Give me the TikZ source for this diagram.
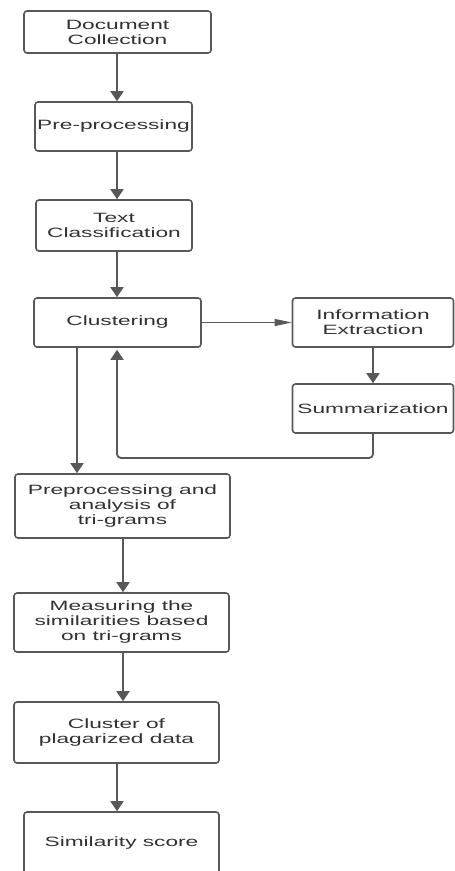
\documentclass[tikz,border=0pt]{standalone}
\usepackage{fontspec}
\newfontfamily\boxfont[FakeStretch=1.68]{Liberation Sans}
\usetikzlibrary{arrows.meta}
\definecolor{linegray}{RGB}{88,88,88}
\definecolor{textgray}{RGB}{50,50,50}
\tikzset{
  box/.style={draw=linegray, line width=1.6pt, rounded corners=3pt, fill=white,
    align=center, inner sep=0pt, text=textgray,
    font=\boxfont\fontsize{13.5}{15}\selectfont},
  arr/.style={draw=linegray, line width=1.8pt, -{Triangle[width=13pt,length=10pt]}},
  thinarr/.style={draw=linegray, line width=0.9pt, -{Triangle[width=7pt,length=17pt]}},
}
\begin{document}
\begin{tikzpicture}[x=1pt,y=-1pt]
\useasboundingbox (0,0) rectangle (455,871);
\fill[white] (0,0) rectangle (455,871);
\node[box, minimum width=187pt, minimum height=42pt] (doc) at (117.5,32) {Document\\Collection};
\node[box, minimum width=157pt, minimum height=49pt] (pre) at (113.5,126.5) {Pre-processing};
\node[box, minimum width=156pt, minimum height=51pt] (txt) at (114,225.5) {Text\\Classification};
\node[box, minimum width=167pt, minimum height=49pt] (clu) at (117.5,322.5) {Clustering};
\node[box, minimum width=161pt, minimum height=49pt] (inf) at (373,322.5) {Information\\Extraction};
\node[box, minimum width=161pt, minimum height=49pt] (sum) at (373,408.5) {Summarization};
\node[box, minimum width=215pt, minimum height=64pt] (tri) at (122.5,506) {Preprocessing and\\analysis of\\tri-grams};
\node[box, minimum width=215pt, minimum height=59pt] (mea) at (121.5,622.5) {Measuring the\\similarities based\\on tri-grams};
\node[box, minimum width=205pt, minimum height=61pt] (plg) at (116.5,732.5) {Cluster of\\plagarized data};
\node[box, minimum width=195pt, minimum height=62pt] (sim) at (121.5,843) {Similarity score};

\coordinate (c117) at (117,0);
\coordinate (c77) at (77,0);
\coordinate (c123) at (123,0);
\coordinate (loopy) at (0,458);

\draw[arr] (doc.south -| c117) -- (pre.north -| c117);
\draw[arr] (pre.south -| c117) -- (txt.north -| c117);
\draw[arr] (txt.south -| c117) -- (clu.north -| c117);
\draw[thinarr] (clu.east) -- (inf.west);
\draw[arr] (inf.south) -- (sum.north);
\draw[arr, rounded corners=4pt] (sum.south) -- (sum.south |- loopy) -- (c117 |- loopy) -- ([yshift=-2pt]clu.south -| c117);
\draw[arr] (clu.south -| c77) -- (tri.north -| c77);
\draw[arr] (tri.south -| c123) -- (mea.north -| c123);
\draw[arr] (mea.south -| c123) -- (plg.north -| c123);
\draw[arr] (plg.south -| c117) -- (sim.north -| c117);
\end{tikzpicture}
\end{document}
